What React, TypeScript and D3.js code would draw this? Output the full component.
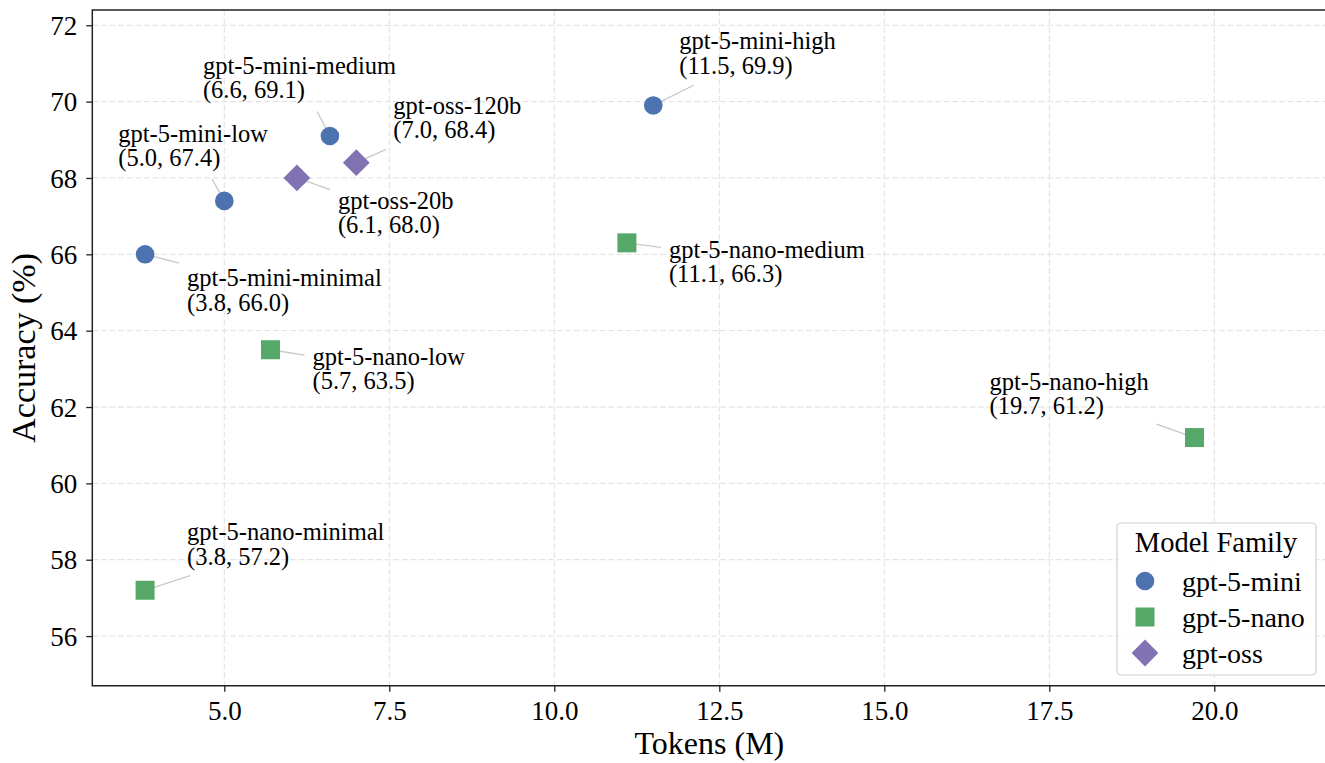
import { useEffect, useRef } from "react";
import * as d3 from "d3";

// data
const models = [
  "gpt-5-mini-minimal", "gpt-5-mini-low", "gpt-5-mini-medium", "gpt-5-mini-high",
  "gpt-5-nano-minimal", "gpt-5-nano-low", "gpt-5-nano-medium", "gpt-5-nano-high",
  "gpt-oss-20b", "gpt-oss-120b",
];
const families = ["gpt-5-mini", "gpt-5-mini", "gpt-5-mini", "gpt-5-mini",
  "gpt-5-nano", "gpt-5-nano", "gpt-5-nano", "gpt-5-nano", "gpt-oss", "gpt-oss"];
const tokens = [3.8, 5.0, 6.6, 11.5, 3.8, 5.7, 11.1, 19.7, 6.1, 7.0];
const accuracy = [66.0, 67.4, 69.1, 69.9, 57.2, 63.5, 66.3, 61.2, 68.0, 68.4];

const familyNames = ["gpt-5-mini", "gpt-5-nano", "gpt-oss"];
const familyColors = ["#4C72B0", "#55A868", "#8172B3"];
const familyShapes = ["circle", "square", "diamond"];

const xTicks = [5.0, 7.5, 10.0, 12.5, 15.0, 17.5, 20.0];
const yTicks = [56, 58, 60, 62, 64, 66, 68, 70, 72];

// label offset from the point (text left, first line middle), px
const labelOffsets: [number, number][] = [
  [42, 23], [-106, -68], [-127, -71], [26, -65],
  [42, -59], [42, 6], [42, 6], [-205, -57],
  [41, 22], [37, -58],
];

const W = 1325;
const H = 763;
const FONT = "'Liberation Serif', 'Times New Roman', serif";

function markerPath(shape: string, s: number) {
  if (shape === "circle") {
    const r = s / 2;
    return `M${-r},0A${r},${r} 0 1,0 ${r},0A${r},${r} 0 1,0 ${-r},0Z`;
  }
  if (shape === "square") {
    const h = s / 2;
    return `M${-h},${-h}H${h}V${h}H${-h}Z`;
  }
  const d = s * 0.72;
  return `M0,${-d}L${d},0L0,${d}L${-d},0Z`;
}

export default function App() {
  const ref = useRef<SVGSVGElement>(null);

  useEffect(() => {
    const svg = d3.select(ref.current);
    svg.selectAll("*").remove();

    const left = 92.3, top = 10, bottom = 685.7;
    const x = d3.scaleLinear().domain([3.0, 21.7]).range([left, left + 18.7 * 66]);
    const y = d3.scaleLinear().domain([54.7, 72.4]).range([bottom, top]);
    const right = x.range()[1];

    svg.append("rect").attr("width", W).attr("height", H).attr("fill", "#fff");

    // grid
    const grid = svg.append("g")
      .attr("stroke", "#d9d9d9")
      .attr("stroke-width", 1)
      .attr("stroke-dasharray", "6,2.6")
      .attr("opacity", 0.8);
    xTicks.forEach(t => grid.append("line")
      .attr("x1", x(t)).attr("x2", x(t)).attr("y1", top).attr("y2", bottom));
    yTicks.forEach(t => grid.append("line")
      .attr("x1", left).attr("x2", right).attr("y1", y(t)).attr("y2", y(t)));

    // axes
    const xAxis = svg.append("g")
      .attr("transform", `translate(0,${bottom})`)
      .call(d3.axisBottom(x).tickValues(xTicks).tickFormat(d3.format(".1f")).tickSize(6).tickPadding(9));
    const yAxis = svg.append("g")
      .attr("transform", `translate(${left},0)`)
      .call(d3.axisLeft(y).tickValues(yTicks).tickSize(6).tickPadding(9));
    [xAxis, yAxis].forEach(a => {
      a.attr("font-family", null).attr("font-size", null);
      a.select(".domain").remove();
      a.selectAll("line").attr("stroke", "#222").attr("stroke-width", 1.3);
      a.selectAll("text")
        .attr("fill", "#000")
        .style("font-family", FONT)
        .style("font-size", "27px");
    });
    xAxis.selectAll("text").attr("dy", "0.71em");
    yAxis.selectAll("text").attr("dy", "0.34em");

    // spines
    svg.append("path")
      .attr("d", `M${right},${top}H${left}V${bottom}H${right}`)
      .attr("fill", "none")
      .attr("stroke", "#222")
      .attr("stroke-width", 1.5);

    // axis titles
    svg.append("text")
      .attr("x", (left + right) / 2).attr("y", 754)
      .attr("text-anchor", "middle")
      .style("font-family", FONT).style("font-size", "32px")
      .text("Tokens (M)");
    svg.append("text")
      .attr("transform", `translate(35,${(top + bottom) / 2}) rotate(-90)`)
      .attr("text-anchor", "middle")
      .style("font-family", FONT).style("font-size", "34px")
      .text("Accuracy (%)");

    const lines = svg.append("g");
    const marks = svg.append("g");
    const labels = svg.append("g")
      .style("font-family", FONT)
      .style("font-size", "24.5px");

    models.forEach((m, i) => {
      const px = x(tokens[i]);
      const py = y(accuracy[i]);
      const [dx, dy] = labelOffsets[i];
      const t = labels.append("text")
        .attr("x", px + dx)
        .attr("y", py + dy)
        .attr("dominant-baseline", "central");
      t.append("tspan").attr("x", px + dx).text(m);
      t.append("tspan").attr("x", px + dx).attr("dy", 24.5)
        .text(`(${tokens[i].toFixed(1)}, ${accuracy[i].toFixed(1)})`);

      // connector: from point toward label box centre, stopping short of the box
      const bb = (t.node() as SVGTextElement).getBBox();
      const pad = 4;
      const bx0 = bb.x - pad, bx1 = bb.x + bb.width + pad;
      const by0 = bb.y - pad, by1 = bb.y + bb.height + pad;
      const cx = bb.x + bb.width / 2, cy = bb.y + bb.height / 2;
      const vx = cx - px, vy = cy - py;
      const tx = vx > 0 ? (bx0 - px) / vx : vx < 0 ? (bx1 - px) / vx : -1;
      const ty = vy > 0 ? (by0 - py) / vy : vy < 0 ? (by1 - py) / vy : -1;
      const tt = Math.max(0, Math.min(1, Math.max(tx, ty)));
      const dist = Math.hypot(vx, vy);
      const end = Math.max(0, dist * tt - 4);
      lines.append("line")
        .attr("x1", px).attr("y1", py)
        .attr("x2", px + (vx / dist) * end).attr("y2", py + (vy / dist) * end)
        .attr("stroke", "#c8c8c8")
        .attr("stroke-width", 1.3);

      const fi = familyNames.indexOf(families[i]);
      marks.append("path")
        .attr("transform", `translate(${px},${py})`)
        .attr("d", markerPath(familyShapes[fi], familyShapes[fi] === "square" ? 19 : 18.6))
        .attr("fill", familyColors[fi]);
    });

    // legend
    const lg = svg.append("g").style("font-family", FONT);
    lg.append("rect")
      .attr("x", 1117).attr("y", 523).attr("width", 199).attr("height", 152)
      .attr("rx", 4)
      .attr("fill", "#fff").attr("fill-opacity", 0.85)
      .attr("stroke", "#d0d0d0").attr("stroke-width", 1.2);
    lg.append("text")
      .attr("x", 1216).attr("y", 542)
      .attr("text-anchor", "middle").attr("dominant-baseline", "central")
      .style("font-size", "28.5px")
      .text("Model Family");
    familyNames.forEach((f, i) => {
      const ry = 581 + i * 36;
      lg.append("path")
        .attr("transform", `translate(1145,${ry})`)
        .attr("d", markerPath(familyShapes[i], familyShapes[i] === "square" ? 19 : 18.6))
        .attr("fill", familyColors[i]);
      lg.append("text")
        .attr("x", 1182).attr("y", ry)
        .attr("dominant-baseline", "central")
        .style("font-size", "28px")
        .text(f);
    });
  }, []);

  return (
    <svg
      ref={ref}
      width={W}
      height={H}
      style={{ position: "absolute", left: 0, top: 0, display: "block" }}
    />
  );
}
